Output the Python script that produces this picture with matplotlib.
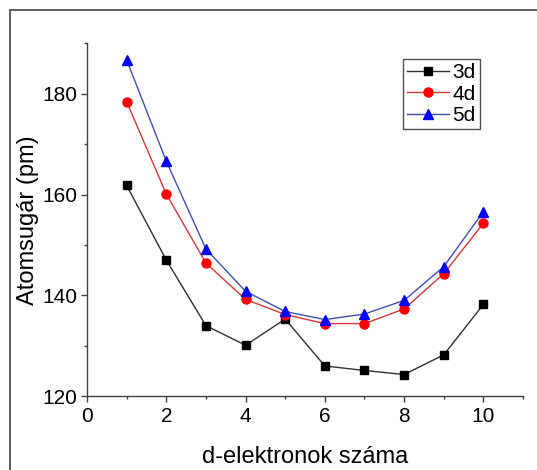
import matplotlib
matplotlib.use('Agg')
import matplotlib.pyplot as plt
from matplotlib.lines import Line2D

plt.rcParams['font.family'] = ['Liberation Sans', 'DejaVu Sans']

# d-electron count and atomic radii (pm)
n_d = [1, 2, 3, 4, 5, 6, 7, 8, 9, 10]
r_3d = [161.8, 147.0, 134.0, 130.1, 135.3, 126.0, 125.1, 124.3, 128.2, 138.2]
r_4d = [178.4, 160.1, 146.4, 139.2, 136.2, 134.4, 134.4, 137.3, 144.3, 154.3]
r_5d = [186.7, 166.6, 149.2, 140.8, 136.8, 135.2, 136.3, 139.0, 145.7, 156.6]

fig = plt.figure(figsize=(5.37, 4.70), dpi=100)
ax = fig.add_axes([0.162, 0.157, 0.812, 0.751])

# grey frame lines (top and left) round the picture
x0, y1 = 9.5 / 537, 1 - 9.5 / 470
fig.add_artist(Line2D([x0, 1.0], [y1, y1], transform=fig.transFigure, color='#505050', lw=1.3))
fig.add_artist(Line2D([x0, x0], [0.0, y1], transform=fig.transFigure, color='#505050', lw=1.3))

ax.plot(n_d, r_3d, color='#303030', lw=1, marker='s', ms=6, mfc='black', mec='black', label='3d')
ax.plot(n_d, r_4d, color='#d03a3a', lw=1, marker='o', ms=6.5, mfc='red', mec='red', label='4d')
ax.plot(n_d, r_5d, color='#4050b0', lw=1, marker='^', ms=7, mfc='blue', mec='blue', label='5d')

ax.set_xlim(0, 11)
ax.set_ylim(120, 190)
ax.set_xticks([0, 2, 4, 6, 8, 10])
ax.set_xticks([1, 3, 5, 7, 9, 11], minor=True)
ax.set_yticks([120, 140, 160, 180])
ax.set_yticks([130, 150, 170, 190], minor=True)

for s in ['top', 'right']:
    ax.spines[s].set_visible(False)
for s in ['left', 'bottom']:
    ax.spines[s].set_color('#404040')
    ax.spines[s].set_linewidth(1)

ax.tick_params(which='major', direction='out', length=4.5, width=1, color='#404040', labelsize=15)
ax.tick_params(axis='x', which='major', pad=3.5)
ax.tick_params(axis='y', which='major', pad=2.5)
ax.tick_params(which='minor', direction='out', length=2.5, width=1, color='#404040')

ax.set_xlabel('d-elektronok száma', fontsize=17, labelpad=14)
ax.set_ylabel('Atomsugár (pm)', fontsize=17, labelpad=2.5)

leg = ax.legend(loc='upper left', bbox_to_anchor=(0.725, 0.955), borderaxespad=0, fontsize=15,
                fancybox=False, edgecolor='#505050', framealpha=1,
                handlelength=2.0, borderpad=0.2, labelspacing=0.12, handletextpad=0.15)
leg.get_frame().set_linewidth(1)

fig.savefig('out.png', dpi=100)
